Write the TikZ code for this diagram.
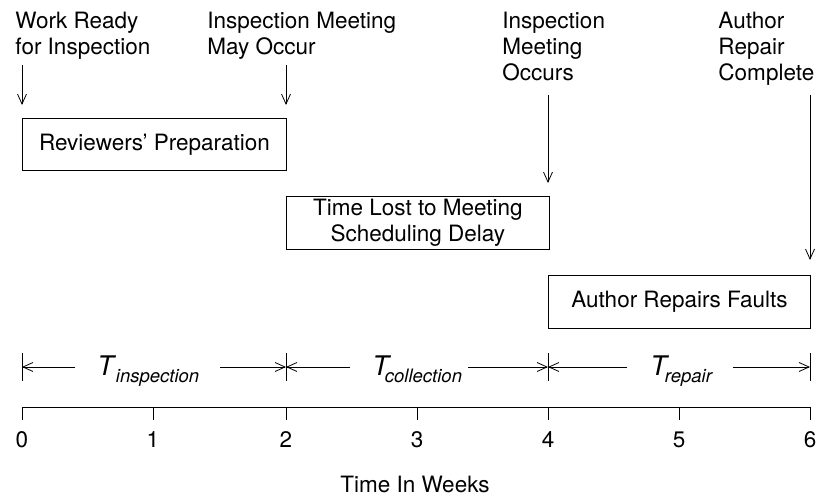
\documentclass[tikz,border=0pt]{standalone}
\usepackage{fontspec}
\setmainfont{TeX Gyre Heros}
\usetikzlibrary{arrows.meta}
% italic T with a lowered subscript; #1 = kern between them, #2 = subscript
\newcommand{\intervalname}[2]{{\fontsize{27}{27}\selectfont\itshape T}\kern#1pt\raisebox{-7pt}{\fontsize{18.5}{18.5}\selectfont\itshape #2}}
\begin{document}
\begin{tikzpicture}[x=1pt,y=-1pt,
  font=\fontsize{22.5}{26}\selectfont,
  line width=0.9pt,
  arr/.style={-{Straight Barb[length=10pt,width=9pt,line width=0.8pt]}},
  box/.style={draw,anchor=north west,inner sep=0pt,align=center},
  lbl/.style={anchor=north west,align=left,inner sep=0pt},
  tick/.style={anchor=center,inner sep=0pt},
  dim/.style={inner sep=0pt,anchor=base west}]
\useasboundingbox (0,0) rectangle (819,497);

% tick positions on the week axis
\foreach \w/\x in {0/22,1/153,2/286,3/417,4/548,5/679,6/810}
  \coordinate (t\w) at (\x,407);

% event labels
\node[lbl] (ready)  at (15,12)  {Work Ready\\for Inspection};
\node[lbl] (may)    at (207,12) {Inspection Meeting\\May Occur};
\node[lbl] (occurs) at (502,12) {Inspection\\Meeting\\Occurs};
\node[lbl] (done)   at (718,12) {Author\\Repair\\Complete};

% activity boxes
\node[box,minimum width=264,minimum height=52] (prep) at (22,118) {Reviewers' Preparation};
\node[box,minimum width=263,minimum height=53] (lost) at (286,196) {Time Lost to Meeting\\Scheduling Delay};
\node[box,minimum width=262,minimum height=53] (fix)  at (548,275) {Author Repairs Faults};

% event arrows
\coordinate (e0) at (22,65);  \coordinate (f0) at (22,105);
\coordinate (e2) at (286,65); \coordinate (f2) at (286,105);
\coordinate (e4) at (548,95); \coordinate (f4) at (548,183);
\coordinate (e6) at (810,95); \coordinate (f6) at (810,260);
\draw[arr] (e0) -- (f0);
\draw[arr] (e2) -- (f2);
\draw[arr] (e4) -- (f4);
\draw[arr] (e6) -- (f6);

% interval markers
\foreach \w in {0,2,4,6} {
  \coordinate (m\w) at ([yshift=40]t\w);
  \draw[line width=0.7pt] ([yshift=54]t\w) -- ([yshift=26]t\w);
}

% interval names
\node[dim] (ti) at (97,375)  {\intervalname{2}{inspection}};
\node[dim] (tc) at (372,375) {\intervalname{-4}{collection}};
\node[dim] (tr) at (650,375) {\intervalname{-2}{repair}};

\coordinate (i0) at (75,367);  \coordinate (i1) at (220,367);
\coordinate (c0) at (350,367); \coordinate (c1) at (468,367);
\coordinate (r0) at (627,367); \coordinate (r1) at (733,367);
\draw[arr] (i0) -- (m0);
\draw[arr] (i1) -- (m2);
\draw[arr] (c0) -- (m2);
\draw[arr] (c1) -- (m4);
\draw[arr] (r0) -- (m4);
\draw[arr] (r1) -- (m6);

% week axis
\draw (t0) -- (t6);
\foreach \w in {0,...,6} {
  \draw (t\w) -- ++(0,13);
  \node[tick] (n\w) at ([yshift=-33]t\w) {\w};
}
\node (axis) at (415,484) {Time In Weeks};
\end{tikzpicture}
\end{document}
